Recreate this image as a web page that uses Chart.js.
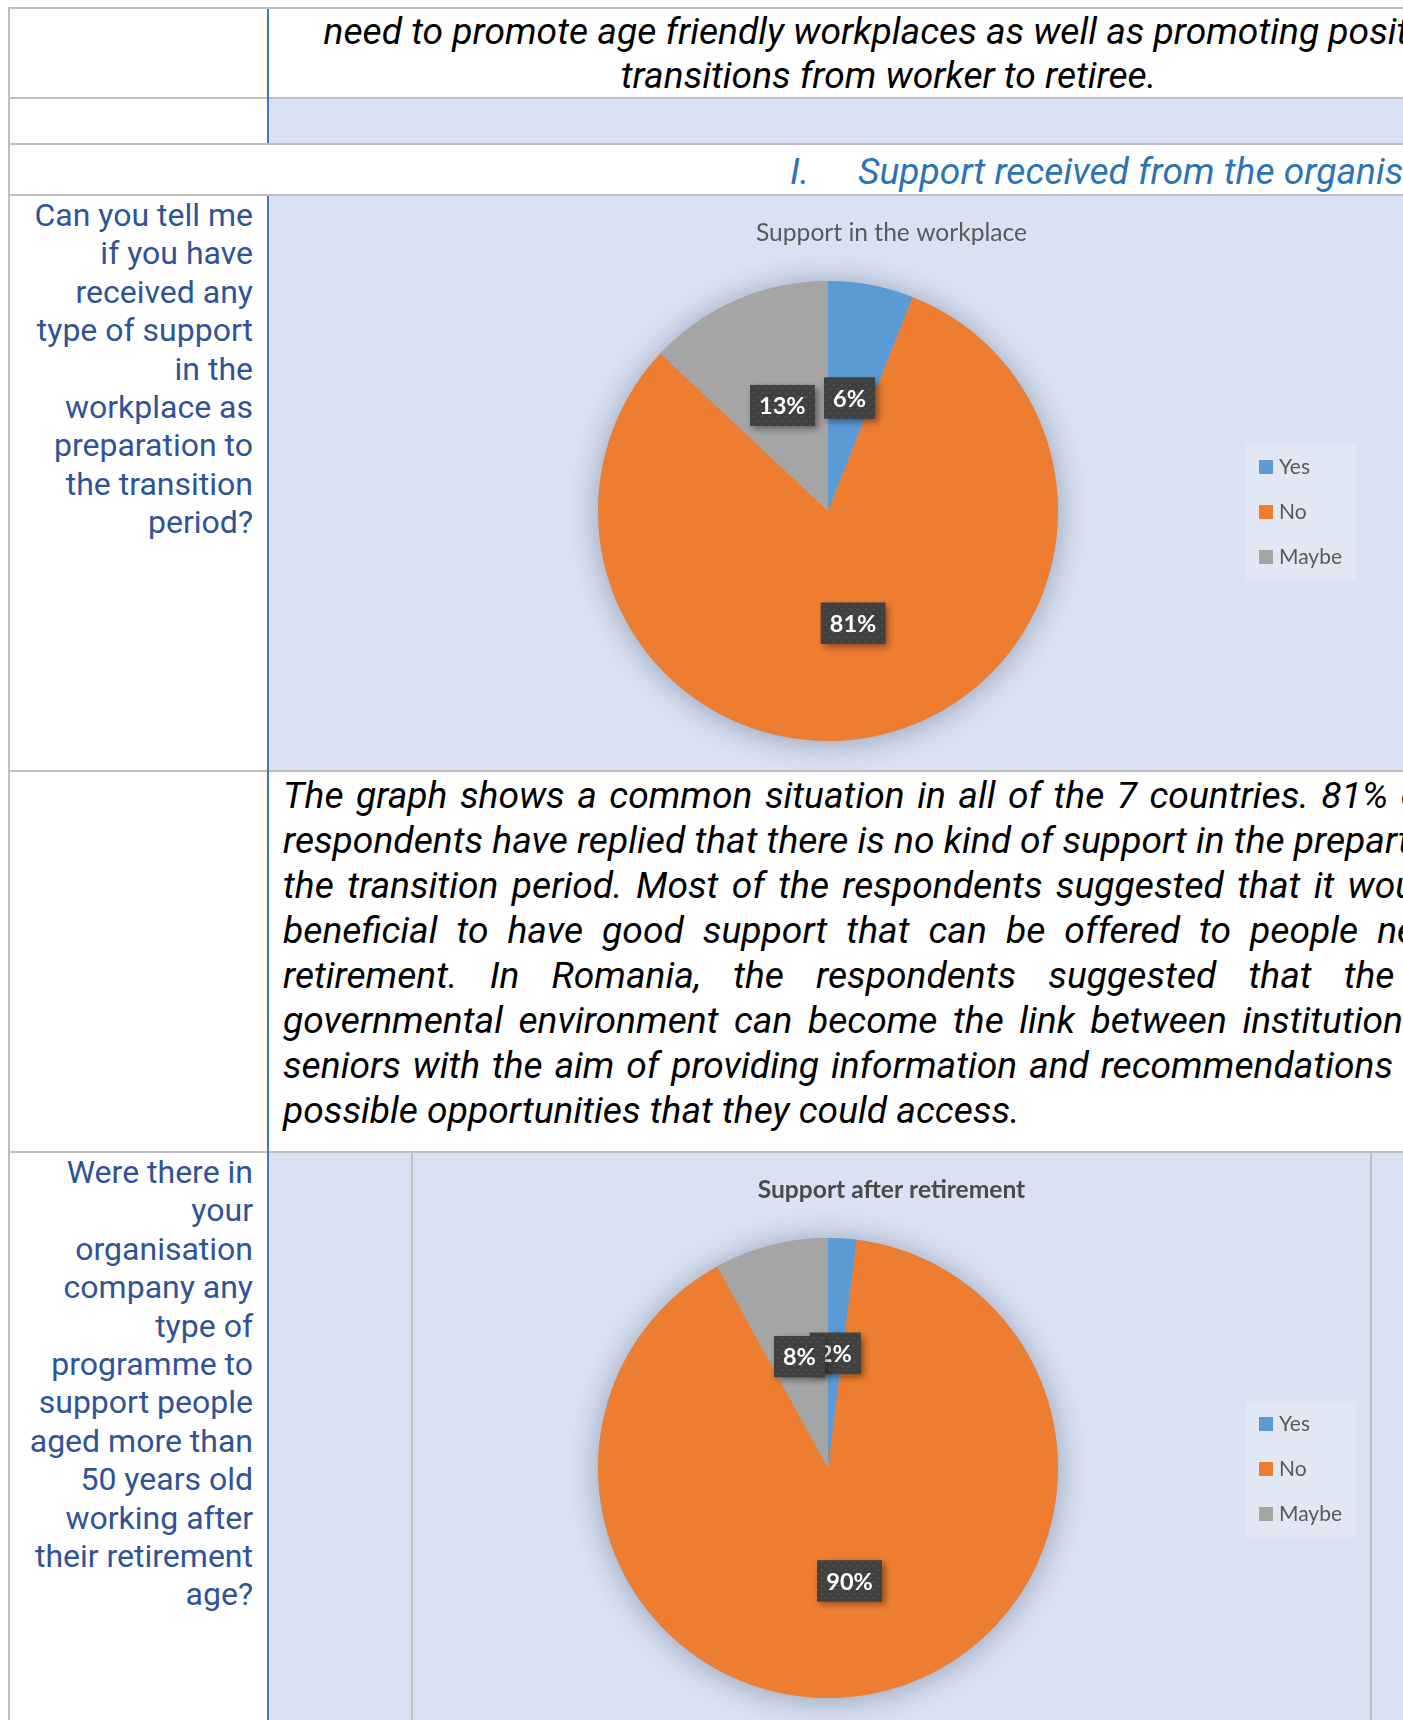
<!DOCTYPE html>
<html>
<head>
<meta charset="utf-8">
<script src="https://cdn.jsdelivr.net/npm/chart.js@4.4.1/dist/chart.umd.min.js"></script>
<style>
  html, body { margin: 0; padding: 0; background: #fff; width: 1403px; height: 1720px; overflow: hidden; }
  #page { position: relative; width: 1403px; height: 1720px; overflow: hidden; }
  .box { position: absolute; }
  .shade { position: absolute; background: #d9e2f3; }
  .hl { position: absolute; height: 2px; background: #bfbfbf; }
  .vl { position: absolute; width: 2px; background: #bfbfbf; }
  .vb { position: absolute; width: 2px; background: #4472c4; }
  .lead { font-family: Roboto, "Noto Sans", sans-serif; font-style: italic; font-size: 37.2px; color: #000; }
  .question { position: absolute; font-family: Roboto, "Noto Sans", sans-serif; font-size: 32px; line-height: 38.4px; color: #2f5496; text-align: right; white-space: nowrap; }
  .just { text-align: justify; text-align-last: justify; white-space: nowrap; height: 45px; line-height: 45px; }
  .just.last { text-align-last: left; text-align: left; }
  canvas { position: absolute; }
</style>
</head>
<body>
<div id="page">
  <!-- shaded cells -->
  <div class="shade" style="left:269px; top:98px; width:1243px; height:46px;"></div>
  <div class="shade" style="left:269px; top:195px; width:1243px; height:576px;"></div>
  <div class="shade" style="left:269px; top:1152px; width:1243px; height:568px;"></div>

  <!-- closing paragraph of the previous section -->
  <div class="box lead" style="left:267px; top:9px; width:1243px; text-align:center; line-height:44px; white-space:nowrap;">
    need to promote age friendly workplaces as well as promoting positive<br>transitions from worker to retiree.
  </div>

  <!-- section heading -->
  <div class="box lead" style="left:790px; top:146px; line-height:51px; color:#2e74b5; white-space:nowrap;">I.</div>
  <div class="box lead" style="left:858px; top:146px; line-height:51px; color:#2e74b5; white-space:nowrap;">Support received from the organisation</div>

  <!-- questions -->
  <div class="question" style="right:1150px; top:196px;">Can you tell me<br>if you have<br>received any<br>type of support<br>in the<br>workplace as<br>preparation to<br>the transition<br>period?</div>
  <div class="question" style="right:1150px; top:1153px;">Were there in<br>your<br>organisation<br>company any<br>type of<br>programme to<br>support people<br>aged more than<br>50 years old<br>working after<br>their retirement<br>age?</div>

  <!-- commentary -->
  <div class="box lead" style="left:283px; top:773px; width:1214px;">
    <div class="just">The graph shows a common situation in all of the 7 countries. 81% of the</div>
    <div class="just">respondents have replied that there is no kind of support in the prepartion of</div>
    <div class="just">the transition period. Most of the respondents suggested that it would be</div>
    <div class="just">beneficial to have good support that can be offered to people nearing</div>
    <div class="just">retirement. In Romania, the respondents suggested that the non-</div>
    <div class="just">governmental environment can become the link between institutions and</div>
    <div class="just">seniors with the aim of providing information and recommendations about</div>
    <div class="just last">possible opportunities that they could access.</div>
  </div>

  <!-- charts -->
  <canvas id="workplaceChart" width="959" height="576" style="left:412px; top:195px;"></canvas>
  <canvas id="retirementChart" width="959" height="576" style="left:412px; top:1152px;"></canvas>

  <!-- grid lines -->
  <div class="hl" style="left:8px; top:7px; width:1504px;"></div>
  <div class="hl" style="left:8px; top:97px; width:1504px;"></div>
  <div class="hl" style="left:8px; top:143px; width:1504px;"></div>
  <div class="hl" style="left:8px; top:194px; width:1504px;"></div>
  <div class="hl" style="left:8px; top:770px; width:1504px;"></div>
  <div class="hl" style="left:8px; top:1151px; width:1504px;"></div>
  <div class="vl" style="left:8px; top:7px; height:1713px;"></div>
  <div class="vb" style="left:267px; top:9px; height:134px;"></div>
  <div class="vb" style="left:267px; top:196px; height:1524px;"></div>
  <div class="vl" style="left:411px; top:1153px; height:567px;"></div>
  <div class="vl" style="left:1370px; top:1153px; height:567px;"></div>
</div>

<script>
// Survey answers, in percent of respondents
const categories = ['Yes', 'No', 'Maybe'];
const workplaceShares = [6, 81, 13];
const retirementShares = [2, 90, 8];
const sliceColors = ['#5b9bd5', '#ed7d31', '#a5a5a5'];

// Dark dotted fill used behind the percentage tags
function makeTagPattern(ctx) {
  const tile = document.createElement('canvas');
  tile.width = 8; tile.height = 8;
  const t = tile.getContext('2d');
  t.fillStyle = '#404040';
  t.fillRect(0, 0, 8, 8);
  t.fillStyle = '#4e4e4e';
  t.fillRect(1, 1, 2, 2);
  t.fillRect(5, 5, 2, 2);
  return ctx.createPattern(tile, 'repeat');
}

// Soft halo around the pie
const pieGlow = {
  id: 'pieGlow',
  beforeDatasetsDraw(chart) {
    const arc = chart.getDatasetMeta(0).data[0];
    if (!arc) return;
    const ctx = chart.ctx;
    ctx.save();
    ctx.shadowColor = 'rgba(40, 50, 80, 0.38)';
    ctx.shadowBlur = 30;
    ctx.shadowOffsetY = 2;
    ctx.fillStyle = '#a5a5a5';
    ctx.beginPath();
    ctx.arc(arc.x, arc.y, arc.outerRadius, 0, Math.PI * 2);
    ctx.fill();
    ctx.restore();
  }
};

// Percentage tags placed halfway along each slice's middle angle
const valueTags = {
  id: 'valueTags',
  afterDatasetsDraw(chart) {
    const ctx = chart.ctx;
    const meta = chart.getDatasetMeta(0);
    const values = chart.data.datasets[0].data;
    const pattern = makeTagPattern(ctx);
    ctx.save();
    ctx.font = 'bold 23.5px Lato';
    meta.data.forEach((arc, i) => {
      const label = values[i] + '%';
      const p = arc.tooltipPosition();
      const w = ctx.measureText(label).width + 18;
      const h = 41;
      const x = p.x - w / 2, y = p.y - h / 2;
      ctx.save();
      ctx.shadowColor = 'rgba(0, 0, 0, 0.45)';
      ctx.shadowBlur = 7;
      ctx.shadowOffsetX = 3;
      ctx.shadowOffsetY = 3;
      ctx.fillStyle = '#404040';
      ctx.fillRect(x, y, w, h);
      ctx.restore();
      ctx.fillStyle = pattern;
      ctx.fillRect(x, y, w, h);
      ctx.fillStyle = '#ffffff';
      ctx.textAlign = 'center';
      ctx.textBaseline = 'middle';
      ctx.fillText(label, p.x, p.y + 1);
    });
    ctx.restore();
  }
};

// Legend panel: reserves a column on the right of the layout and lists the categories
const sideLegend = {
  id: 'sideLegend',
  beforeInit(chart, args, opts) {
    const panel = {
      position: 'right',
      weight: 1000,
      fullSize: false,
      options: {},
      isHorizontal() { return false; },
      update(maxWidth, maxHeight) {
        this.width = opts.columnWidth;
        this.height = maxHeight;
        return { left: 0, right: 0, top: 0, bottom: 0 };
      },
      getPadding() { return { left: 0, right: 0, top: 0, bottom: 0 }; },
      draw() {}
    };
    Chart.layouts.addBox(chart, panel);
  },
  afterDraw(chart, args, opts) {
    const ctx = chart.ctx;
    const colors = chart.data.datasets[0].backgroundColor;
    const n = chart.data.labels.length;
    const h = n * opts.step + 1;
    const x = chart.chartArea.right + opts.gap;
    const midY = (chart.chartArea.top + chart.chartArea.bottom) / 2 + 1;
    const y = midY - h / 2;
    ctx.save();
    ctx.fillStyle = '#e1e7f3';
    ctx.fillRect(x, y, opts.width, h);
    ctx.font = '21px Lato';
    ctx.textBaseline = 'middle';
    chart.data.labels.forEach((name, i) => {
      const cy = midY + (i - (n - 1) / 2) * opts.step;
      ctx.fillStyle = colors[i];
      ctx.fillRect(x + 13, cy - 7, 14, 14);
      ctx.fillStyle = '#595959';
      ctx.fillText(name, x + 33, cy);
    });
    ctx.restore();
  }
};

function buildPie(canvasId, title, values, bold) {
  return new Chart(document.getElementById(canvasId), {
    type: 'pie',
    data: {
      labels: categories,
      datasets: [{
        data: values,
        backgroundColor: sliceColors,
        borderWidth: 0
      }]
    },
    options: {
      responsive: false,
      animation: false,
      layout: { padding: { left: 0, right: 0, top: 0, bottom: 30 } },
      plugins: {
        legend: { display: false },
        tooltip: { enabled: false },
        title: {
          display: true,
          text: title,
          color: bold ? '#4a4a4a' : '#595959',
          font: { family: 'Lato', size: 24.6, weight: bold ? 'bold' : 'normal', lineHeight: 1.2 },
          padding: { top: 23.2, bottom: 33.3 }
        },
        sideLegend: { columnWidth: 127, gap: 2, width: 110, step: 45 }
      }
    },
    plugins: [pieGlow, valueTags, sideLegend]
  });
}

buildPie('workplaceChart', 'Support in the workplace', workplaceShares, false);
buildPie('retirementChart', 'Support after retirement', retirementShares, true);
</script>
</body>
</html>
